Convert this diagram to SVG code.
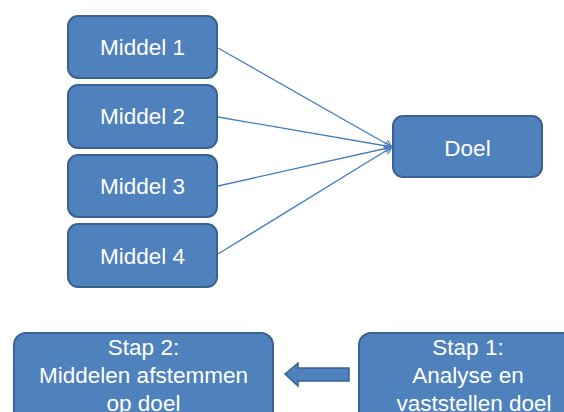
<svg xmlns="http://www.w3.org/2000/svg" width="564" height="412" viewBox="0 0 564 412">
  <style>
    .box { fill: #4f81bd; stroke: #3a6291; stroke-width: 2; }
    .lbl { fill: #ffffff; font-family: "Liberation Sans", Arial, sans-serif; font-size: 22.5px; text-anchor: middle; }
    .link { fill: none; stroke: #4a7ebb; stroke-width: 1.3; }
  </style>
  <defs>
    <marker id="open-arrow" viewBox="0 0 12 12" refX="11" refY="6" markerWidth="9" markerHeight="9" markerUnits="userSpaceOnUse" orient="auto">
      <path d="M1,1 L11,6 L1,11" fill="none" stroke="#4a7ebb" stroke-width="1.6"/>
    </marker>
  </defs>
  <rect width="564" height="412" fill="#ffffff"/>

  <g id="connectors">
    <line class="link" x1="218" y1="48" x2="392" y2="147" marker-end="url(#open-arrow)"/>
    <line class="link" x1="218" y1="117" x2="392" y2="147" marker-end="url(#open-arrow)"/>
    <line class="link" x1="218" y1="186" x2="392" y2="147" marker-end="url(#open-arrow)"/>
    <line class="link" x1="218" y1="254" x2="392" y2="147" marker-end="url(#open-arrow)"/>
    <path id="step-arrow" d="M285,374 L298,363 L298,368 L349,368 L349,381 L298,381 L298,386 Z" fill="#4f81bd" stroke="#3a6291" stroke-width="1.5"/>
  </g>

  <g id="middel1">
    <rect class="box" x="68" y="16" width="149" height="62" rx="10"/>
    <text class="lbl" x="142.5" y="55">Middel 1</text>
  </g>
  <g id="middel2">
    <rect class="box" x="68" y="85" width="149" height="63" rx="10"/>
    <text class="lbl" x="142.5" y="124">Middel 2</text>
  </g>
  <g id="middel3">
    <rect class="box" x="68" y="155" width="149" height="62" rx="10"/>
    <text class="lbl" x="142.5" y="194">Middel 3</text>
  </g>
  <g id="middel4">
    <rect class="box" x="68" y="224" width="149" height="63" rx="10"/>
    <text class="lbl" x="142.5" y="264">Middel 4</text>
  </g>
  <g id="doel">
    <rect class="box" x="393" y="116" width="149" height="61" rx="10"/>
    <text class="lbl" x="467.5" y="156">Doel</text>
  </g>

  <g id="stap2">
    <rect class="box" x="14" y="333" width="259" height="100" rx="12"/>
    <text class="lbl" x="143.5" y="355">Stap 2:</text>
    <text class="lbl" x="143.5" y="383">Middelen afstemmen</text>
    <text class="lbl" x="143.5" y="411">op doel</text>
  </g>
  <g id="stap1">
    <rect class="box" x="359" y="333" width="218" height="100" rx="12"/>
    <text class="lbl" x="468" y="355">Stap 1:</text>
    <text class="lbl" x="468" y="383">Analyse en</text>
    <text class="lbl" x="474" y="411">vaststellen doel</text>
  </g>
</svg>
